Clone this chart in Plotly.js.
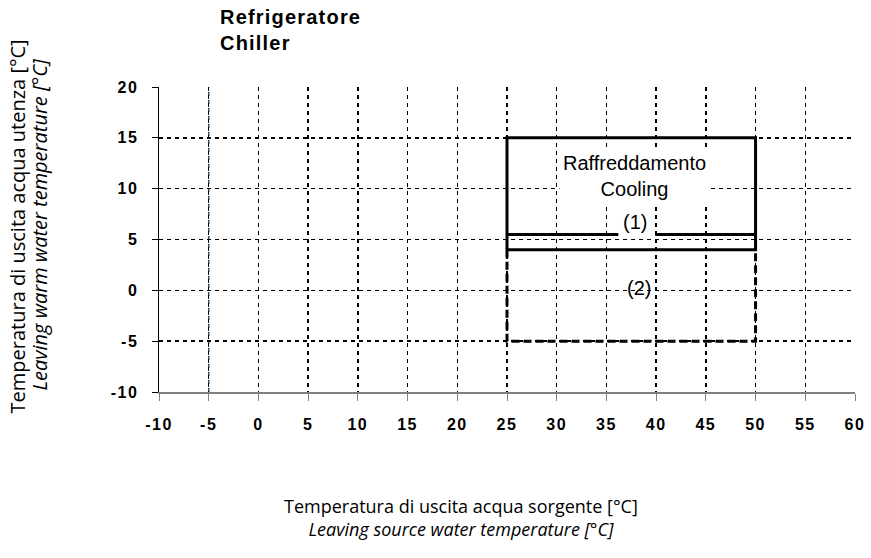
<!DOCTYPE html>
<html>
<head>
<meta charset="utf-8">
<script src="https://cdn.plot.ly/plotly-3.0.1.min.js"></script>
<style>
html,body{margin:0;padding:0;background:#fff;}
#chart{width:871px;height:558px;}
.xtick text,.ytick text{letter-spacing:1.5px;}
.annotation[data-index="0"] text{letter-spacing:1.2px;}
</style>
</head>
<body>
<div id="chart"></div>
<script>
// Operating envelope (chiller, cooling mode)
var coolingX = [25, 25, 50, 50, 25];
var coolingY = [4, 15, 15, 4, 4];
// Limit (1) line, interrupted around its label
var limit1X = [25, 36.2, null, 39.9, 50];
var limit1Y = [5.5, 5.5, null, 5.5, 5.5];
// Extended envelope (2), dashed
var extX = [25, 25, 50, 50];
var extY = [4, -5, -5, 4];

var xTickVals = [-10, -5, 0, 5, 10, 15, 20, 25, 30, 35, 40, 45, 50, 55, 60];
var xTickText = ['-10', '-5', '0', '5', '10', '15', '20', '25', '30', '35', '40', '45', '50', '55', '60'];
var yTickVals = [-10, -5, 0, 5, 10, 15, 20];
var yTickText = ['-10', '-5', '0', '5', '10', '15', '20'];
var xRange = [-10, 60];
var yRange = [-10, 20];

var titleLines = ['Refrigeratore', 'Chiller'];
var xTitleLines = ['Temperatura di uscita acqua sorgente [°C]', '<i>Leaving source water temperature [°C]</i>'];
var yTitleLine1 = 'Temperatura di uscita acqua utenza [°C]';
var yTitleLine2 = '<i>Leaving warm water temperature [°C]</i>';
var zoneLabel = ['Raffreddamento', 'Cooling'];
var zoneLabelPos = [37.8, 11.25];
var label1 = '(1)', label1Pos = [37.9, 6.7];
var label2 = '(2)', label2Pos = [38.3, 0.25];
var blueGridX = -5;

var arial = 'Liberation Sans, Arial, sans-serif';
var sans = 'Open Sans, Noto Sans, sans-serif';

var traces = [
  {x: coolingX, y: coolingY, mode: 'lines', line: {color: '#000', width: 3}, hoverinfo: 'skip', showlegend: false},
  {x: limit1X, y: limit1Y, mode: 'lines', line: {color: '#000', width: 3}, connectgaps: false, hoverinfo: 'skip', showlegend: false},
  {x: extX, y: extY, mode: 'lines', line: {color: '#000', width: 3, dash: '8px,4px'}, hoverinfo: 'skip', showlegend: false}
];

var layout = {
  width: 871, height: 558,
  margin: {l: 159, r: 16, t: 87, b: 166},
  paper_bgcolor: '#fff', plot_bgcolor: '#fff',
  showlegend: false,
  xaxis: {
    range: xRange, tickmode: 'array', tickvals: xTickVals, ticktext: xTickText,
    showgrid: true, gridcolor: '#000', gridwidth: 1.5, griddash: '4px,4px',
    zeroline: false,
    showline: true, linecolor: '#808080', linewidth: 1.5,
    ticks: 'outside', ticklen: 7, tickcolor: '#808080', tickwidth: 1,
    ticklabelstandoff: 10,
    tickfont: {family: arial, size: 16, color: '#000', weight: 'bold'}
  },
  yaxis: {
    range: yRange, tickmode: 'array', tickvals: yTickVals, ticktext: yTickText,
    showgrid: true, gridcolor: '#000', gridwidth: 1.5, griddash: '4px,4px',
    zeroline: false,
    showline: true, linecolor: '#000', linewidth: 1.5,
    ticks: 'outside', ticklen: 6, tickcolor: '#000', tickwidth: 1,
    ticklabelstandoff: 10,
    tickfont: {family: arial, size: 16, color: '#000', weight: 'bold'}
  },
  shapes: [
    {type: 'line', xref: 'x', yref: 'y', x0: blueGridX, x1: blueGridX, y0: yRange[0], y1: yRange[1],
     line: {color: '#1f4e79', width: 1.5, dash: '4px,4px'}, layer: 'below'}
  ],
  annotations: [
    {xref: 'paper', yref: 'paper', x: 0.0848, y: 1.272, xanchor: 'left', yanchor: 'top', align: 'left',
     text: '<b>' + titleLines.join('<br>') + '</b>', showarrow: false,
     font: {family: arial, size: 20, color: '#000'}},
    {xref: 'paper', yref: 'paper', x: 0.434, y: -0.327, xanchor: 'center', yanchor: 'top', align: 'center',
     text: xTitleLines.join('<br>'), showarrow: false,
     font: {family: sans, size: 18, color: '#000'}},
    {xref: 'paper', yref: 'paper', x: -0.204, y: 0.543, xanchor: 'center', yanchor: 'middle', align: 'center',
     textangle: -90, text: yTitleLine1, showarrow: false,
     font: {family: sans, size: 20, color: '#000'}},
    {xref: 'paper', yref: 'paper', x: -0.172, y: 0.55, xanchor: 'center', yanchor: 'middle', align: 'center',
     textangle: -90, text: yTitleLine2, showarrow: false,
     font: {family: sans, size: 20, color: '#000'}},
    {xref: 'x', yref: 'y', x: zoneLabelPos[0], y: zoneLabelPos[1], text: zoneLabel.join('<br>'), showarrow: false,
     bgcolor: '#fff', borderpad: 3,
     font: {family: arial, size: 20, color: '#000'}},
    {xref: 'x', yref: 'y', x: label1Pos[0], y: label1Pos[1], text: label1, showarrow: false,
     font: {family: arial, size: 20, color: '#000'}},
    {xref: 'x', yref: 'y', x: label2Pos[0], y: label2Pos[1], text: label2, showarrow: false,
     font: {family: arial, size: 20, color: '#000'}}
  ]
};

Plotly.newPlot('chart', traces, layout, {displayModeBar: false, staticPlot: true});
</script>
</body>
</html>
